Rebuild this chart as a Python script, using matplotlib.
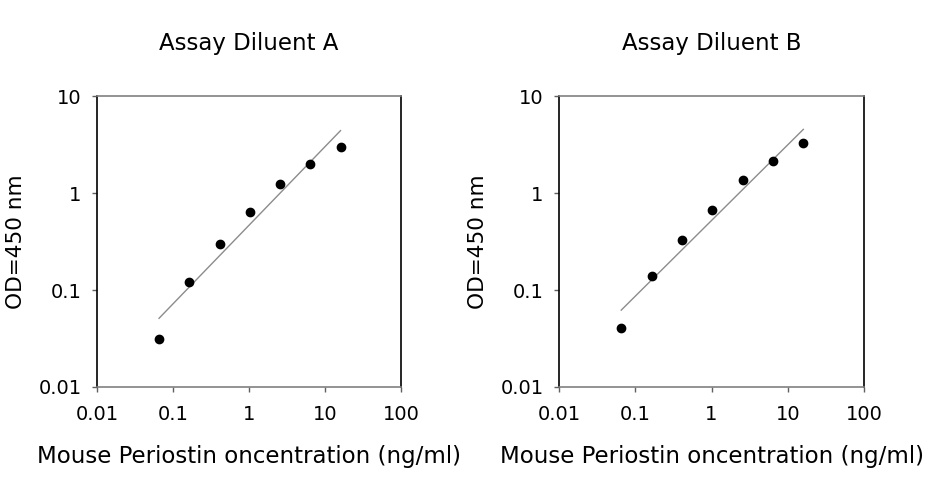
import numpy as np
import matplotlib
matplotlib.use("Agg")
import matplotlib.pyplot as plt
from matplotlib.ticker import FixedLocator, NullLocator

plt.rcParams['font.family'] = ['DejaVu Sans']

# concentrations (ng/ml), 2.5-fold dilution series
conc = [0.0655, 0.164, 0.41, 1.024, 2.56, 6.4, 16.0]

# OD readings
od_a = [0.031, 0.120, 0.300, 0.640, 1.245, 2.010, 3.010]
od_b = [0.041, 0.140, 0.324, 0.669, 1.350, 2.150, 3.260]

titles = ["Assay Diluent A", "Assay Diluent B"]
x_ticks = [0.01, 0.1, 1, 10, 100]
x_labels = ["0.01", "0.1", "1", "10", "100"]
y_ticks = [0.01, 0.1, 1, 10]
y_labels = ["0.01", "0.1", "1", "10"]

W, H = 926, 480
fig = plt.figure(figsize=(W/100, H/100), dpi=100)

# axes boxes in pixels: left, right, top, bottom
boxes = [(97, 401, 96, 387), (559, 864, 96, 387)]

for (l, r, t, b), od, title in zip(boxes, [od_a, od_b], titles):
    ax = fig.add_axes([l/W, (H-b)/H, (r-l)/W, (b-t)/H])
    ax.set_xscale('log')
    ax.set_yscale('log')
    ax.set_xlim(0.01, 100)
    ax.set_ylim(0.01, 10)

    # log-log linear fit
    lx = np.log10(conc)
    ly = np.log10(od)
    k, c = np.polyfit(lx, ly, 1)
    xs = np.array([conc[0], conc[-1]])
    ax.plot(xs, 10**(c + k*np.log10(xs)), color='#8c8c8c', lw=1.0)

    ax.plot(conc, od, 'o', color='black', ms=6, zorder=3)

    ax.xaxis.set_major_locator(FixedLocator(x_ticks))
    ax.yaxis.set_major_locator(FixedLocator(y_ticks))
    ax.xaxis.set_minor_locator(NullLocator())
    ax.yaxis.set_minor_locator(NullLocator())
    ax.set_xticklabels(x_labels)
    ax.set_yticklabels(y_labels)
    ax.tick_params(axis='x', length=3.5, width=1, color='#606060', pad=9.5, labelsize=14)
    ax.tick_params(axis='y', length=3.5, width=1, color='#606060', pad=7.5, labelsize=14)

    for side in ['top', 'bottom']:
        ax.spines[side].set_color('#808080')
    for side in ['left', 'right']:
        ax.spines[side].set_color('black')
    for s in ax.spines.values():
        s.set_linewidth(1.2)

    ax.set_title(title, fontsize=16.5, pad=33)
    ax.set_xlabel("Mouse Periostin oncentration (ng/ml)", fontsize=16.5, labelpad=15)
    ax.set_ylabel("OD=450 nm", fontsize=15.6, labelpad=9)

fig.savefig("out.png", dpi=100)
